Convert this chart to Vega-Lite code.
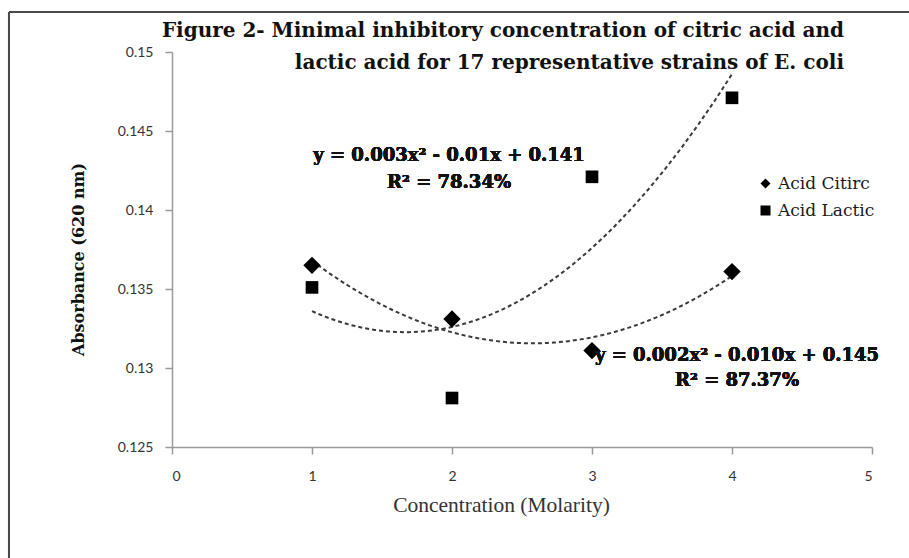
{
  "$schema": "https://vega.github.io/schema/vega-lite/v6.json",
  "autosize": {"type": "none"},
  "padding": {"left": 172, "top": 52, "right": 37, "bottom": 111},
  "width": 700,
  "height": 395,
  "background": "white",
  "config": {"view": {"stroke": null}},
  "title": {
    "text": ["Figure 2- Minimal inhibitory concentration of citric acid  and", "lactic acid for 17 representative strains of E. coli"],
    "font": "DejaVu Serif",
    "fontSize": 20,
    "fontWeight": "bold",
    "color": "#111111",
    "lineHeight": 32,
    "frame": "group",
    "anchor": "end",
    "align": "right",
    "baseline": "top",
    "dx": -28,
    "offset": -62
  },
  "data": {
    "values": [
      {"series": "Acid Citirc", "concentration": 1, "absorbance": 0.1365},
      {"series": "Acid Citirc", "concentration": 2, "absorbance": 0.1331},
      {"series": "Acid Citirc", "concentration": 3, "absorbance": 0.1311},
      {"series": "Acid Citirc", "concentration": 4, "absorbance": 0.1361},
      {"series": "Acid Lactic", "concentration": 1, "absorbance": 0.1351},
      {"series": "Acid Lactic", "concentration": 2, "absorbance": 0.1281},
      {"series": "Acid Lactic", "concentration": 3, "absorbance": 0.1421},
      {"series": "Acid Lactic", "concentration": 4, "absorbance": 0.1471}
    ]
  },
  "encoding": {
    "x": {
      "field": "concentration",
      "type": "quantitative",
      "scale": {"domain": [0, 5], "nice": false, "zero": false},
      "axis": {
        "title": "Concentration (Molarity)",
        "values": [0, 1, 2, 3, 4, 5],
        "format": "d",
        "grid": false,
        "domainColor": "#9a9a9a",
        "domainWidth": 1.5,
        "tickColor": "#9a9a9a",
        "tickWidth": 1.5,
        "tickSize": 7,
        "labelFont": "Lato",
        "labelFontSize": 14,
        "labelColor": "#333333",
        "labelPadding": 15,
        "titleFont": "Liberation Serif",
        "titleFontSize": 21.5,
        "titleFontWeight": "normal",
        "titleColor": "#333333",
        "titlePadding": 11,
        "titleX": 329,
        "titleAlign": "center"
      }
    },
    "y": {
      "field": "absorbance",
      "type": "quantitative",
      "scale": {"domain": [0.125, 0.15], "nice": false, "zero": false},
      "axis": {
        "title": "Absorbance (620 nm)",
        "values": [0.125, 0.13, 0.135, 0.14, 0.145, 0.15],
        "format": "~g",
        "grid": false,
        "domainColor": "#9a9a9a",
        "domainWidth": 1.5,
        "tickColor": "#9a9a9a",
        "tickWidth": 1.5,
        "tickSize": 7,
        "labelFont": "Lato",
        "labelFontSize": 14,
        "labelColor": "#333333",
        "labelPadding": 12,
        "titleFont": "DejaVu Serif",
        "titleFontSize": 16,
        "titleFontWeight": "bold",
        "titleColor": "#111111",
        "titlePadding": 31,
        "titleY": 207
      }
    }
  },
  "layer": [
    {
      "mark": {"type": "rule", "color": "#4a4a4a", "strokeWidth": 2},
      "encoding": {
        "x": {"datum": -1.1643, "type": "quantitative"},
        "x2": {"datum": 5.3},
        "y": {"datum": 0.15253, "type": "quantitative"}
      }
    },
    {
      "mark": {"type": "rule", "color": "#4a4a4a", "strokeWidth": 2},
      "encoding": {
        "x": {"datum": -1.1643, "type": "quantitative"},
        "y": {"datum": 0.15253, "type": "quantitative"},
        "y2": {"datum": 0.117}
      }
    },
    {
      "transform": [
        {"regression": "absorbance", "on": "concentration", "groupby": ["series"], "method": "poly", "order": 2}
      ],
      "mark": {"type": "line", "color": "#3a3a3a", "strokeWidth": 2, "strokeDash": [4, 3]},
      "encoding": {
        "detail": {"field": "series", "type": "nominal"}
      }
    },
    {
      "mark": {"type": "point", "filled": true, "color": "black", "opacity": 1},
      "encoding": {
        "shape": {
          "field": "series",
          "type": "nominal",
          "scale": {"domain": ["Acid Citirc", "Acid Lactic"], "range": ["diamond", "square"]},
          "legend": {
            "title": null,
            "orient": "none",
            "legendX": 585,
            "legendY": 123,
            "padding": 0,
            "symbolSize": 100,
            "symbolFillColor": "black",
            "symbolStrokeWidth": 0,
            "labelFont": "DejaVu Serif",
            "labelFontSize": 17,
            "labelColor": "#1a1a1a",
            "labelOffset": 4,
            "rowPadding": 9
          }
        },
        "size": {
          "condition": {"test": "datum.series === 'Acid Citirc'", "value": 300},
          "value": 160
        }
      }
    },
    {
      "mark": {"type": "text", "font": "DejaVu Serif", "fontSize": 18, "fontWeight": "bold", "color": "#111111", "align": "center", "baseline": "middle"},
      "encoding": {
        "x": {"datum": 1.979, "type": "quantitative"},
        "y": {"datum": 0.14342, "type": "quantitative"},
        "text": {"value": "y = 0.003x² - 0.01x + 0.141"}
      }
    },
    {
      "mark": {"type": "text", "font": "DejaVu Serif", "fontSize": 18, "fontWeight": "bold", "color": "#111111", "align": "center", "baseline": "middle"},
      "encoding": {
        "x": {"datum": 1.979, "type": "quantitative"},
        "y": {"datum": 0.1417, "type": "quantitative"},
        "text": {"value": "R² = 78.34%"}
      }
    },
    {
      "mark": {"type": "text", "font": "DejaVu Serif", "fontSize": 18, "fontWeight": "bold", "color": "#111111", "align": "center", "baseline": "middle"},
      "encoding": {
        "x": {"datum": 4.036, "type": "quantitative"},
        "y": {"datum": 0.13076, "type": "quantitative"},
        "text": {"value": "y = 0.002x² - 0.010x + 0.145"}
      }
    },
    {
      "mark": {"type": "text", "font": "DejaVu Serif", "fontSize": 18, "fontWeight": "bold", "color": "#111111", "align": "center", "baseline": "middle"},
      "encoding": {
        "x": {"datum": 4.036, "type": "quantitative"},
        "y": {"datum": 0.12918, "type": "quantitative"},
        "text": {"value": "R² = 87.37%"}
      }
    }
  ]
}
